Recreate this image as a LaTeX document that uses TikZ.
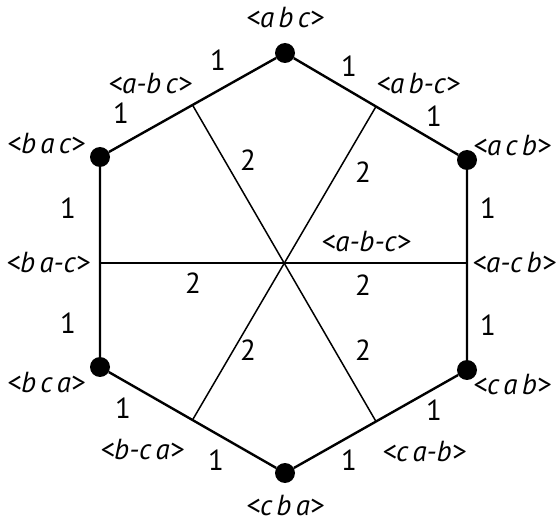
\documentclass[tikz,border=0pt]{standalone}
\usepackage{fontspec}
\setmainfont{PT Sans}
\newfontfamily\permfont{PT Sans}[WordSpace=0.55]
\usetikzlibrary{positioning, calc}

\begin{document}
\begin{tikzpicture}[
    x=1pt, y=-1pt,
    every node/.style={inner sep=1pt},
    perm/.style={font=\permfont\fontsize{29}{31}\selectfont\itshape},
    weight/.style={font=\fontsize{29}{31}\selectfont},
    vertex/.style={circle, fill=black, minimum size=20pt, inner sep=0pt},
    side/.style={line width=2.4pt, draw=black},
    spoke/.style={line width=1.5pt, draw=black},
]
\useasboundingbox (0,0) rectangle (558,524);

% Vertices
\node[vertex] (abc) at (285,53)  {};
\node[vertex] (acb) at (467,160) {};
\node[vertex] (cab) at (467,370) {};
\node[vertex] (cba) at (285,473) {};
\node[vertex] (bca) at (100,367) {};
\node[vertex] (bac) at (100,157) {};

% Side midpoints
\coordinate (mTR) at ($(abc)!0.5!(acb)$);
\coordinate (mR)  at (467,263);
\coordinate (mBR) at ($(cab)!0.5!(cba)$);
\coordinate (mBL) at ($(cba)!0.5!(bca)$);
\coordinate (mL)  at (100,263);
\coordinate (mTL) at ($(bac)!0.5!(abc)$);

% Spokes
\draw[spoke] (mTL) -- (mBR);
\draw[spoke] (mTR) -- (mBL);
\draw[spoke] (mL) -- (mR);

% Sides
\draw[side] (abc) -- (acb) -- (cab) -- (cba) -- (bca) -- (bac) -- (abc);

% Vertex labels
\node[perm] (labc) at (285,18)  {<a b c>};
\node[perm] (lacb) at (512,146) {<a c b>};
\node[perm] (lcab) at (512,385) {<c a b>};
\node[perm] (lcba) at (285,506) {<c b a>};
\node[perm] (lbca) at (46,383)  {<b c a>};
\node[perm] (lbac) at (46,144)  {<b a c>};

% Midpoint labels
\node[perm] (labmc) at (418,84)  {<a b-c>};
\node[perm] (lamcb) at (514,263) {<a-c b>};
\node[perm] (lcamb) at (424,452) {<c a-b>};
\node[perm] (lbmca) at (142,450) {<b-c a>};
\node[perm] (lbamc) at (48,263)  {<b a-c>};
\node[perm] (lambc) at (150,84)  {<a-b c>};
\node[perm] (lambmc) at (366,242) {<a-b-c>};

% Side weights
\node[weight] (w1)  at (218,60)  {1};
\node[weight] (w2)  at (349,66)  {1};
\node[weight] (w3)  at (434,116) {1};
\node[weight] (w4)  at (488,208) {1};
\node[weight] (w5)  at (488,325) {1};
\node[weight] (w6)  at (434,410) {1};
\node[weight] (w7)  at (349,460) {1};
\node[weight] (w8)  at (216,460) {1};
\node[weight] (w9)  at (123,408) {1};
\node[weight] (w10) at (68,323)  {1};
\node[weight] (w11) at (68,208)  {1};
\node[weight] (w12) at (121,113) {1};

% Spoke weights
\node[weight] (s1) at (248,160) {2};
\node[weight] (s2) at (363,172) {2};
\node[weight] (s3) at (363,285) {2};
\node[weight] (s4) at (363,350) {2};
\node[weight] (s5) at (248,350) {2};
\node[weight] (s6) at (193,283) {2};

\end{tikzpicture}
\end{document}
